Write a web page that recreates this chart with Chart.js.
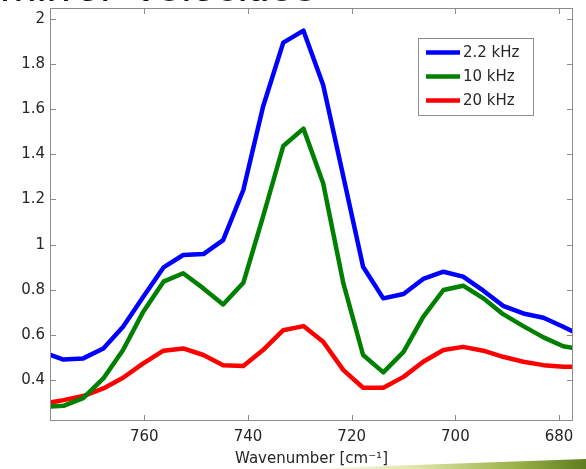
<!DOCTYPE html>
<html lang="en">
<head>
  <meta charset="UTF-8" />
  <title>Mirror velocities</title>
  <script src="https://cdn.jsdelivr.net/npm/chart.js"></script>
  <style>
    body {
      margin: 0;
      background: #ffffff;
      overflow: hidden;
      font-family: "DejaVu Sans", sans-serif;
    }
    .wrap {
      position: relative;
      width: 586px;
      height: 469px;
    }
    .slide-title {
      position: absolute;
      left: 0px;
      top: -36px;
      font-family: "Liberation Sans", Arial, sans-serif;
      font-size: 44px;
      line-height: 44px;
      word-spacing: 8px;
      color: #111;
      white-space: nowrap;
    }
    .swoosh {
      position: absolute;
      left: 300px;
      bottom: 0;
      width: 286px;
      height: 10px;
      background: linear-gradient(to right, rgba(255,255,255,0), #dfe6a8 40%, #9bb24a 75%, #5d7d1f);
      clip-path: polygon(0 100%, 100% 0, 100% 100%);
    }
    canvas { position: absolute; left: 0; top: 0; }
  </style>
</head>
<body>
  <div class="wrap">
    <canvas id="chart" width="586" height="469"></canvas>
    <div class="slide-title">mirror velocities</div>
    <div class="swoosh"></div>
  </div>

  <script>
    // wavenumber (cm^-1) of each sample
    const wavenumbers = [779.5, 775.6, 771.8, 767.9, 764.1, 760.2, 756.3, 752.5, 748.6, 744.8,
                         740.9, 737.1, 733.2, 729.3, 725.5, 721.6, 717.8, 713.9, 710.0, 706.2,
                         702.3, 698.5, 694.6, 690.8, 686.9, 683.0, 679.2, 675.3];
    const khz2_2 = [0.523, 0.491, 0.496, 0.540, 0.636, 0.769, 0.899, 0.954, 0.958, 1.020,
                    1.242, 1.611, 1.895, 1.948, 1.707, 1.301, 0.902, 0.762, 0.781, 0.848,
                    0.880, 0.858, 0.796, 0.729, 0.695, 0.676, 0.636, 0.594];
    const khz10 = [0.280, 0.286, 0.320, 0.407, 0.533, 0.703, 0.836, 0.873, 0.806, 0.735,
                   0.831, 1.124, 1.437, 1.514, 1.272, 0.828, 0.511, 0.434, 0.525, 0.680,
                   0.799, 0.818, 0.762, 0.692, 0.639, 0.589, 0.550, 0.534];
    const khz20 = [0.295, 0.311, 0.329, 0.363, 0.410, 0.474, 0.530, 0.540, 0.511, 0.466,
                   0.462, 0.533, 0.621, 0.639, 0.570, 0.444, 0.366, 0.366, 0.414, 0.481,
                   0.533, 0.547, 0.530, 0.503, 0.481, 0.466, 0.459, 0.459];
    const seriesNames = ['2.2 kHz', '10 kHz', '20 kHz'];
    const seriesColors = ['#0000ff', '#008000', '#ff0000'];
    const xTicks = [760, 740, 720, 700, 680];
    const yTicks = [0.4, 0.6, 0.8, 1, 1.2, 1.4, 1.6, 1.8, 2];

    const FONT = { family: 'DejaVu Sans', size: 15 };
    const TEXT = '#262626';
    const AXIS = '#8c8c8c';

    function points(ys) {
      return wavenumbers.map((w, i) => ({ x: w, y: ys[i] }));
    }

    // matlab-like box with inward ticks on all four sides
    const frame = {
      id: 'frame',
      afterDatasetsDraw(chart) {
        const { ctx, chartArea: a, scales: { x, y } } = chart;
        ctx.save();
        ctx.strokeStyle = AXIS;
        ctx.lineWidth = 1;
        ctx.strokeRect(a.left - 0.5, a.top - 0.5, a.right - a.left + 1, a.bottom - a.top + 1);
        ctx.beginPath();
        xTicks.forEach(v => {
          const px = Math.round(x.getPixelForValue(v)) + 0.5;
          ctx.moveTo(px, a.bottom); ctx.lineTo(px, a.bottom - 5);
          ctx.moveTo(px, a.top); ctx.lineTo(px, a.top + 5);
        });
        yTicks.forEach(v => {
          const py = Math.round(y.getPixelForValue(v)) + 0.5;
          ctx.moveTo(a.left, py); ctx.lineTo(a.left + 5, py);
          ctx.moveTo(a.right, py); ctx.lineTo(a.right - 5, py);
        });
        ctx.stroke();

        // legend box
        const bx = 418.5, by = 38.5, bw = 115, bh = 77;
        ctx.fillStyle = '#ffffff';
        ctx.fillRect(bx, by, bw, bh);
        ctx.strokeRect(bx, by, bw, bh);
        ctx.font = FONT.size + 'px ' + FONT.family;
        ctx.textBaseline = 'middle';
        chart.data.datasets.forEach((ds, i) => {
          const ly = 52.5 + i * 24;
          ctx.strokeStyle = ds.borderColor;
          ctx.lineWidth = 4.5;
          ctx.beginPath();
          ctx.moveTo(426, ly); ctx.lineTo(460, ly);
          ctx.stroke();
          ctx.fillStyle = TEXT;
          ctx.fillText(ds.label, 463, ly + 1);
        });
        ctx.restore();
      }
    };

    const ctx = document.getElementById('chart').getContext('2d');
    new Chart(ctx, {
      type: 'line',
      data: {
        datasets: [khz2_2, khz10, khz20].map((ys, i) => ({
          label: seriesNames[i],
          data: points(ys),
          borderColor: seriesColors[i],
          borderWidth: 4.5,
          pointRadius: 0,
          tension: 0,
          borderJoinStyle: 'round',
          fill: false
        }))
      },
      options: {
        responsive: false,
        devicePixelRatio: 1,
        animation: false,
        layout: { padding: { top: 9, right: 14, left: 0, bottom: 0 } },
        plugins: {
          legend: { display: false },
          tooltip: { enabled: false }
        },
        scales: {
          x: {
            type: 'linear',
            reverse: true,
            min: 677.5,
            max: 778,
            afterBuildTicks: s => { s.ticks = xTicks.map(v => ({ value: v })); },
            afterFit: s => { s.height = 49; s.paddingLeft = 0; s.paddingRight = 0; },
            grid: { display: false, drawTicks: false },
            border: { display: false },
            ticks: { font: FONT, color: TEXT, padding: 8, maxRotation: 0 },
            title: {
              display: true,
              text: 'Wavenumber [cm⁻¹]',
              font: FONT,
              color: TEXT,
              padding: { top: 0, bottom: 1 }
            }
          },
          y: {
            min: 0.223,
            max: 2.044,
            afterBuildTicks: s => { s.ticks = yTicks.map(v => ({ value: v })); },
            afterFit: s => { s.width = 51; s.paddingTop = 0; s.paddingBottom = 0; },
            grid: { display: false, drawTicks: false },
            border: { display: false },
            ticks: {
              font: FONT,
              color: TEXT,
              padding: 6,
              callback: v => String(parseFloat(v.toFixed(1)))
            }
          }
        }
      },
      plugins: [frame]
    });
  </script>
</body>
</html>
